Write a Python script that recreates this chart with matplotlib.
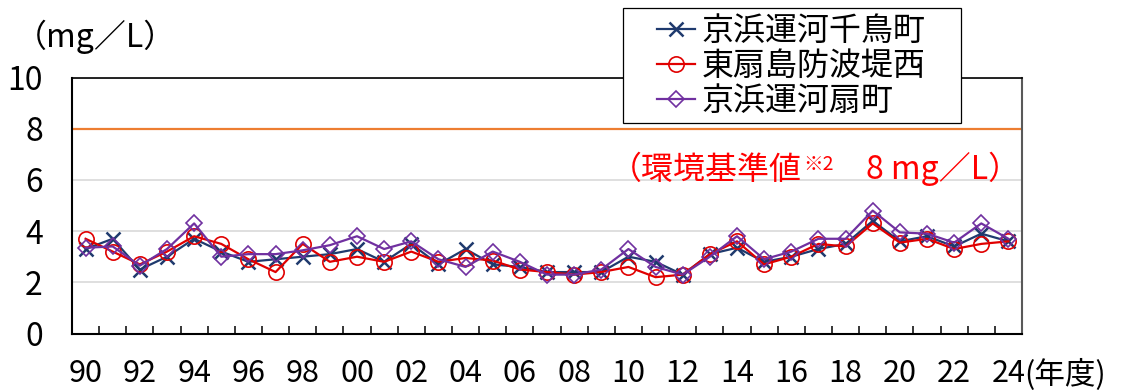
import matplotlib
matplotlib.use('Agg')
import matplotlib.pyplot as plt
from matplotlib.patches import Rectangle
import numpy as np

plt.rcParams['font.family'] = ['Noto Sans CJK JP', 'DejaVu Sans']

# 年度 1990〜2024
years = list(range(1990, 2025))
year_labels = [f'{y % 100:02d}' for y in years]

# COD (mg/L)
chidoricho = [3.3, 3.7, 2.5, 3.0, 3.7, 3.2, 2.8, 2.9, 3.0, 3.1,
              3.3, 2.8, 3.5, 2.7, 3.3, 2.7, 2.6, 2.4, 2.4, 2.4,
              3.0, 2.8, 2.3, 3.1, 3.35, 2.8, 3.0, 3.3, 3.5, 4.4,
              3.6, 3.8, 3.4, 3.9, 3.6]
higashiogishima = [3.7, 3.2, 2.7, 3.2, 3.8, 3.5, 2.9, 2.4, 3.5, 2.8,
                   3.0, 2.8, 3.2, 2.8, 2.95, 2.85, 2.5, 2.4, 2.3, 2.4,
                   2.6, 2.2, 2.3, 3.1, 3.6, 2.7, 3.0, 3.5, 3.4, 4.3,
                   3.55, 3.7, 3.3, 3.5, 3.6]
ogimachi = [3.35, 3.4, 2.65, 3.3, 4.3, 3.0, 3.1, 3.1, 3.25, 3.45,
            3.8, 3.3, 3.6, 2.9, 2.6, 3.2, 2.8, 2.3, 2.3, 2.5,
            3.3, 2.6, 2.3, 3.0, 3.8, 2.9, 3.2, 3.7, 3.7, 4.8,
            3.95, 3.9, 3.55, 4.3, 3.7]
standard = 8

series_names = ['京浜運河千鳥町', '東扇島防波堤西', '京浜運河扇町']

navy = '#1F3A6E'
red = '#E00000'
purple = '#7030A0'
fs = 23

fig = plt.figure(figsize=(11.27, 3.9), dpi=100)
ax = fig.add_axes([72 / 1127, 1 - 333.5 / 390, 950 / 1127, 256 / 390])

x = np.arange(len(years))
h1, = ax.plot(x, chidoricho, color=navy, lw=1.6, marker='x', ms=10, mew=1.8,
              label=series_names[0], zorder=3)
h2, = ax.plot(x, higashiogishima, color=red, lw=1.6, marker='o', ms=11,
              mfc='none', mew=1.2, label=series_names[1], zorder=4)
h3, = ax.plot(x, ogimachi, color=purple, lw=1.6, marker='D', ms=8,
              mfc='none', mew=1.2, label=series_names[2], zorder=5)
ax.axhline(standard, color='#ED7D31', lw=1.6, zorder=2)

ax.set_xlim(-0.5, len(years) - 0.5)
ax.set_ylim(0, 10)
ax.set_yticks(range(0, 11, 2))
ax.yaxis.grid(True, color='#D9D9D9', lw=1.2)
ax.set_axisbelow(True)
ax.tick_params(axis='y', length=0, pad=21, labelsize=fs)

ax.set_xticks(x[::2])
ax.set_xticklabels(year_labels[::2])
ax.tick_params(axis='x', which='major', length=0, pad=18, labelsize=22)
ax.set_xticks(np.arange(-0.5, len(years)), minor=True)
ax.tick_params(axis='x', which='minor', direction='in', length=6, width=1.1,
               color='black')

for side in ['left', 'bottom']:
    ax.spines[side].set_linewidth(1.5)
    ax.spines[side].set_color('black')
ax.spines['top'].set_linewidth(1.2)
ax.spines['right'].set_linewidth(1.5)
ax.spines['right'].set_color('#595959')

# 単位・年度
fig.text(15 / 1127, 1 - 37 / 390, '（mg／L）', fontsize=fs, va='center', ha='left')
fig.text(1024 / 1127, 1 - 358.5 / 390, '(年度)', fontsize=22, va='top', ha='left')

# 環境基準値の注記
t1 = ax.text(0.566, 0.6387, '（環境基準値', transform=ax.transAxes,
             fontsize=fs, color='#FF0000', va='center', ha='left')
t2 = ax.annotate('※2', xy=(1, 1), xycoords=t1, xytext=(1, 0),
                 textcoords='offset points', fontsize=14, color='#FF0000',
                 va='top', ha='left')
t3 = ax.annotate('　8 mg／L）', xy=(1, 0), xycoords=(t2, t1), xytext=(0, 0),
                 textcoords='offset points', fontsize=fs, color='#FF0000',
                 va='bottom', ha='left')

# 凡例 (枠は別に描く)
box = Rectangle((622.7 / 1127, 1 - 123 / 390), 338.3 / 1127, 114.7 / 390,
                transform=fig.transFigure, facecolor='white',
                edgecolor='black', lw=0.9, zorder=3)
fig.add_artist(box)
leg = fig.legend([h1, h2, h3], series_names, loc='upper left',
                 bbox_to_anchor=(657 / 1127, 1 - 15 / 390), frameon=False,
                 borderpad=0, borderaxespad=0, handlelength=1.19,
                 handletextpad=0.2, labelspacing=0.1, fontsize=fs)
leg.set_zorder(5)

fig.savefig('out.png', dpi=100)
